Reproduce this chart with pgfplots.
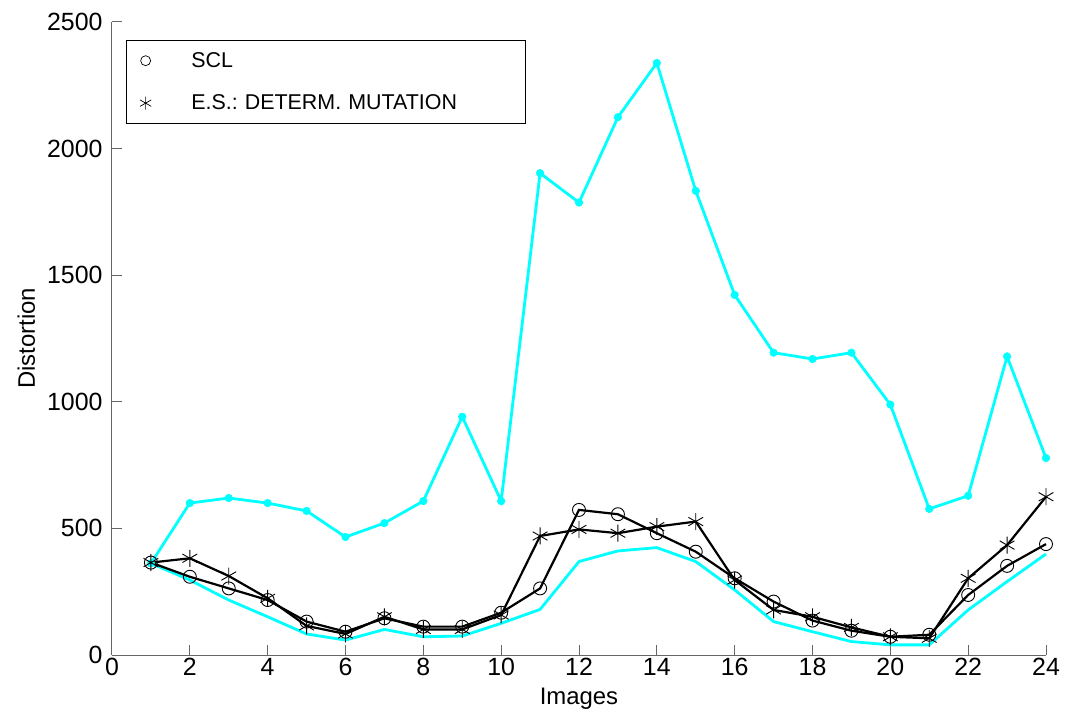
\documentclass[border=0pt]{standalone}
\usepackage{fontspec}
\setmainfont{Liberation Sans}
\usepackage{pgfplots}
\usepackage{pgfplotstable}
\pgfplotsset{compat=1.18}
\definecolor{envcyan}{RGB}{0,255,255}
\frenchspacing

% distortion per test image: upper/lower envelope, SCL and E.S. results
\pgfplotstableread{
x  upper lower scl es
1  362   362   365 365
2  600   296   309 382
3  620   217   263 312
4  600   151   217 224
5  569   83    132 115
6  466   59    92  83
7  521   101   145 151
8  608   72    112 101
9  941   75    112 101
10 608   125   167 158
11 1903  180   263 470
12 1787  369   573 496
13 2124  411   556 481
14 2338  424   481 507
15 1833  369   408 527
16 1422  257   303 296
17 1194  132   211 178
18 1169  92    136 151
19 1194  53    96  109
20 989   40    72  72
21 577   40    80  66
22 629   178   237 303
23 1179  290   352 434
24 778   399   438 625
}\distortion

\begin{document}
\begin{tikzpicture}
\begin{axis}[
  width=934bp, height=633bp, scale only axis,
  xmin=0, xmax=24, ymin=0, ymax=2500,
  xtick={0,2,...,24}, ytick={0,500,...,2500},
  axis x line=bottom, axis y line=left,
  axis line style={-, black!60, line width=1bp},
  tick align=inside, major tick length=10bp,
  tick style={black!60, line width=1bp},
  /pgf/number format/assume math mode=true,
  /pgf/number format/set thousands separator={},
  ticklabel style={font=\fontsize{25}{30}\selectfont, black},
  yticklabel style={xshift=-6bp},
  label style={font=\fontsize{24}{29}\selectfont},
  xlabel={Images}, ylabel={Distortion},
  xlabel style={at={([yshift=-49bp]axis description cs:0.5,0)}, anchor=base},
  ylabel style={at={([xshift=-77bp]axis description cs:0,0.5)}, anchor=base},
  legend style={at={(0.015,0.9716)}, anchor=north west,
    draw=black, line width=1bp,
    inner xsep=13.5bp, inner ysep=5bp, row sep=12bp,
    font=\fontsize{21.5}{25}\selectfont,
    nodes={inner xsep=7bp, inner ysep=7bp, text width=314bp, align=left},
    /tikz/every odd column/.append style={column sep=33bp}},
  legend cell align=left,
  clip=false,
]
\addlegendimage{only marks, mark=o, mark size=5bp, black, mark options={line width=0.7bp}}
\addlegendimage{only marks, mark=asterisk, mark size=6.5bp, black, mark options={line width=0.7bp}}
\legend{SCL, E.S.: DETERM. MUTATION}

\addplot[envcyan, line width=2.8bp, mark=*, mark size=3.8bp,
  mark options={fill=envcyan, draw=envcyan, line width=0.5bp}] table[x=x, y=upper] {\distortion};
\addplot[envcyan, line width=2.8bp] table[x=x, y=lower] {\distortion};
\addplot[black, line width=2.2bp, mark=o, mark size=6.5bp,
  mark options={line width=0.9bp}] table[x=x, y=scl] {\distortion};
\addplot[black, line width=2.2bp, mark=asterisk, mark size=8.5bp,
  mark options={line width=0.9bp}] table[x=x, y=es] {\distortion};
\end{axis}
\path ([shift={(-112bp,-60bp)}]current axis.south west)
  rectangle ([shift={(20bp,22bp)}]current axis.north east);
\end{tikzpicture}
\end{document}
